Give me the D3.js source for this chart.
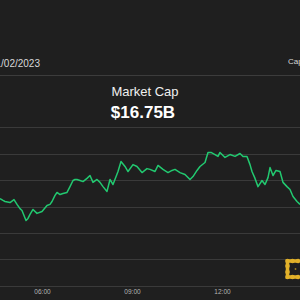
<!DOCTYPE html>
<html>
<head>
<meta charset="utf-8">
<script src="https://cdn.jsdelivr.net/npm/d3@7"></script>
<style>
  html, body { margin: 0; padding: 0; background: #1f1f1f; }
  svg { display: block; font-family: "Liberation Sans", Arial, sans-serif; }
</style>
</head>
<body>
<svg id="chart" width="300" height="300"></svg>
<script>
// market cap (billions USD) through the day
var times = ["04:36","04:42","04:46","04:56","05:04","05:10","05:16","05:20","05:28","05:32",
  "05:36","05:42","05:50","06:00","06:10","06:16","06:20","06:26","06:30","06:36",
  "06:42","06:50","06:56","07:02","07:06","07:10","07:16","07:22","07:30","07:36",
  "07:42","07:50","07:56","08:02","08:10","08:16","08:22","08:32","08:38","08:46",
  "08:52","09:02","09:10","09:20","09:30","09:36","09:46","09:52","10:02","10:12",
  "10:20","10:26","10:36","10:46","10:56","11:02","11:10","11:16","11:26","11:32",
  "11:38","11:46","11:52","11:56","12:06","12:16","12:26","12:36","12:42","12:50",
  "12:56","13:00","13:06","13:12","13:20","13:26","13:32","13:36","13:42","13:48",
  "13:56","14:02","14:10","14:16","14:22","14:30","14:36"];
var marketCap = [16.780,16.773,16.769,16.765,16.776,16.758,16.742,16.735,16.697,16.705,
  16.720,16.739,16.724,16.731,16.754,16.758,16.769,16.792,16.803,16.795,
  16.799,16.803,16.825,16.848,16.852,16.852,16.848,16.844,16.856,16.867,
  16.841,16.852,16.841,16.825,16.807,16.852,16.833,16.882,16.920,16.901,
  16.882,16.908,16.901,16.878,16.893,16.890,16.882,16.905,16.890,16.878,
  16.886,16.890,16.878,16.871,16.852,16.863,16.886,16.901,16.916,16.954,
  16.954,16.946,16.939,16.954,16.935,16.946,16.939,16.950,16.939,16.939,
  16.908,16.882,16.856,16.825,16.848,16.833,16.859,16.897,16.867,16.886,
  16.882,16.841,16.825,16.814,16.788,16.769,16.758];
var gridValues = [16.45, 16.55, 16.65, 16.75, 16.85, 16.95, 17.05];
var timeTicks = ["06:00", "09:00", "12:00"];
var dateLabel = "01/02/2023";
var title = "Market Cap";
var currentValue = "$16.75B";

var parseTime = d3.timeParse("%H:%M");
var data = times.map(function (t, i) { return { t: parseTime(t), v: marketCap[i] }; });

var svg = d3.select("#chart");
var width = 300, height = 300;

svg.append("rect").attr("width", width).attr("height", height).attr("fill", "#1f1f1f");

var x = d3.scaleTime()
  .domain([parseTime("04:36"), parseTime("14:36")])
  .range([0, width]);
var y = d3.scaleLinear()
  .domain([16.45, 17.05])
  .range([286, 127]);

// header
svg.append("text")
  .attr("x", 40).attr("y", 67)
  .attr("text-anchor", "end")
  .attr("font-size", 10)
  .attr("fill", "#d8d8d8")
  .text(dateLabel);
svg.append("text")
  .attr("x", 288).attr("y", 64)
  .attr("font-size", 8)
  .attr("fill", "#d8d8d8")
  .text("Cap");
svg.append("line")
  .attr("x1", 0).attr("x2", width)
  .attr("y1", 75.5).attr("y2", 75.5)
  .attr("stroke", "#3c3c3c").attr("stroke-width", 1);

// grid
svg.append("g").selectAll("line")
  .data(gridValues)
  .join("line")
  .attr("x1", 0).attr("x2", width)
  .attr("y1", function (d) { return Math.round(y(d)) + 0.5; })
  .attr("y2", function (d) { return Math.round(y(d)) + 0.5; })
  .attr("stroke", "#3a3a3a").attr("stroke-width", 1);

// titles
svg.append("text")
  .attr("x", 145).attr("y", 96)
  .attr("text-anchor", "middle")
  .attr("font-size", 13)
  .attr("fill", "#f0f0f0")
  .text(title);
svg.append("text")
  .attr("x", 143).attr("y", 118)
  .attr("text-anchor", "middle")
  .attr("font-size", 17)
  .attr("font-weight", "bold")
  .attr("fill", "#ffffff")
  .text(currentValue);

// x axis labels
var xAxis = d3.axisBottom(x)
  .tickValues(timeTicks.map(parseTime))
  .tickFormat(d3.timeFormat("%H:%M"))
  .tickSize(0).tickPadding(0);
var gx = svg.append("g").attr("transform", "translate(0,289)").call(xAxis);
gx.select(".domain").remove();
gx.selectAll("text")
  .attr("font-family", "'Liberation Sans', Arial, sans-serif")
  .attr("font-size", 6.5)
  .attr("fill", "#b5b5b5");

// line
var line = d3.line()
  .x(function (d) { return x(d.t); })
  .y(function (d) { return y(d.v); });
svg.append("path")
  .datum(data)
  .attr("d", line)
  .attr("fill", "none")
  .attr("stroke", "#22c970")
  .attr("stroke-width", 1.5)
  .attr("stroke-linejoin", "round");

// logo
var logo = svg.append("g").attr("fill", "#e2b12a").attr("stroke", "#e2b12a");
logo.append("path")
  .attr("d", "M298,261 H287.5 V277 H298")
  .attr("fill", "none").attr("stroke-width", 3.5);
[[287.5, 261], [292.5, 261], [298, 261], [287.5, 266], [287.5, 272], [287.5, 277], [292.5, 277], [298, 277]]
  .forEach(function (p) {
    logo.append("circle").attr("cx", p[0]).attr("cy", p[1]).attr("r", 2.3).attr("stroke", "none");
  });
logo.append("circle").attr("cx", 295.5).attr("cy", 269).attr("r", 0.9).attr("stroke", "none").attr("fill", "#a08020");
</script>
</body>
</html>
